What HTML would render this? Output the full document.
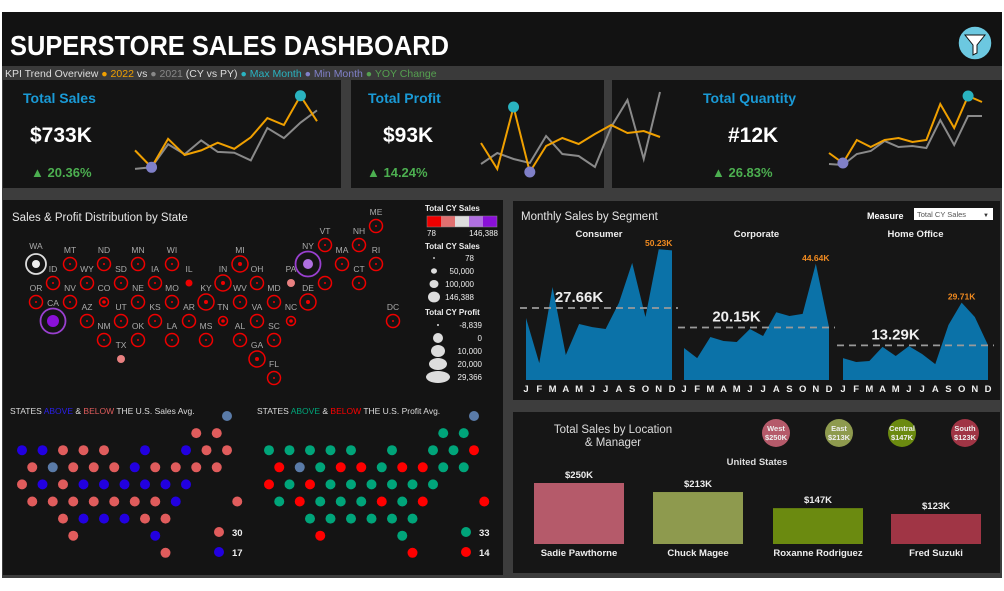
<!DOCTYPE html>
<html><head><meta charset="utf-8"><style>
html,body{margin:0;padding:0;background:#fff;}
svg{display:block;font-family:"Liberation Sans",sans-serif;}
</style></head><body>
<svg id="s" width="1004" height="591" viewBox="0 0 1004 591" xmlns="http://www.w3.org/2000/svg">
<rect x="2" y="12" width="1000" height="566" fill="#3d3d3d"/>
<rect x="2" y="12" width="1000" height="54" fill="#121212"/>
<text x="10" y="55" fill="#fff" font-size="28" font-weight="bold" textLength="439" lengthAdjust="spacingAndGlyphs">SUPERSTORE SALES DASHBOARD</text>
<g><circle cx="975" cy="43" r="17" fill="#6cc8e0" stroke="#111" stroke-width="1.5"/><path d="M965 35 L985 35 L977 45 L977 53 L973 55 L973 45 Z" fill="#fff" stroke="#111" stroke-width="1"/></g>
<rect x="2" y="66" width="1000" height="14" fill="#3a3a3a"/>
<text x="5" y="77" font-size="10.5" fill="#ddd">KPI Trend Overview <tspan fill="#f0a000">● 2022</tspan> vs <tspan fill="#888">● 2021</tspan> (CY vs PY) <tspan fill="#2ab3c0">● Max Month</tspan> <tspan fill="#8080c8">● Min Month</tspan> <tspan fill="#55a050">● YOY Change</tspan></text>
<rect x="3" y="80" width="338" height="108" fill="#141414"/>
<rect x="351" y="80" width="253" height="108" fill="#141414"/>
<rect x="612" y="80" width="390" height="108" fill="#141414"/>
<text x="23" y="103" font-size="14" font-weight="bold" fill="#1a9ad6">Total Sales</text>
<text x="30" y="142" font-size="21" font-weight="bold" fill="#fff">$733K</text>
<text x="31" y="177" font-size="13" font-weight="bold" fill="#4caf50">▲ 20.36%</text>
<text x="368" y="103" font-size="14" font-weight="bold" fill="#1a9ad6">Total Profit</text>
<text x="383" y="142" font-size="21" font-weight="bold" fill="#fff">$93K</text>
<text x="367" y="177" font-size="13" font-weight="bold" fill="#4caf50">▲ 14.24%</text>
<text x="703" y="103" font-size="14" font-weight="bold" fill="#1a9ad6">Total Quantity</text>
<text x="728" y="142" font-size="21" font-weight="bold" fill="#fff">#12K</text>
<text x="712" y="177" font-size="13" font-weight="bold" fill="#4caf50">▲ 26.83%</text>
<rect x="3" y="200" width="500" height="375" fill="#141414"/>
<text x="12" y="221" font-size="11.5" fill="#e6e6e6">Sales &amp; Profit Distribution by State</text>
<rect x="513" y="201" width="487" height="199" fill="#161616"/>
<text x="521" y="220" font-size="11.5" fill="#e6e6e6">Monthly Sales by Segment</text>
<text x="867" y="219" font-size="9" font-weight="bold" fill="#fff">Measure</text>
<g><rect x="914" y="208" width="79" height="12" fill="#fff"/><text x="917" y="217" font-size="7.5" fill="#555">Total CY Sales</text><text x="983" y="217" font-size="6" fill="#333">▼</text></g>
<rect x="513" y="412" width="487" height="161" fill="#161616"/>
<text x="613" y="433" font-size="11.5" fill="#ddd" text-anchor="middle">Total Sales by Location</text>
<text x="613" y="446" font-size="11.5" fill="#ddd" text-anchor="middle">&amp; Manager</text>
<text x="757" y="465" font-size="9.5" font-weight="bold" fill="#ddd" text-anchor="middle">United States</text>
<g id="g"></g>
</svg>
<script>
// ---- KPI sparkline data ----
const months = ['Jan','Feb','Mar','Apr','May','Jun','Jul','Aug','Sep','Oct','Nov','Dec'];
const salesCY = [45,23,60,39,45,55,47,62,87,78,116,83];
const salesPY = [21,23,53,40,58,43,42,32,74,61,81,97];
const profitCY = [9.6,1.8,20.4,0.9,8.7,11.1,9.3,12.3,15,12.6,13.2,11.4];
const profitPY = [3.3,6.6,4.8,3.6,11.7,6.3,5.7,2.4,14.4,22.5,4.8,24.9];
const qtyCY = [220,120,350,280,350,370,330,350,710,470,790,730];
const qtyPY = [110,100,210,240,340,280,290,270,550,300,590,590];
// ---- Segment data (K) ----
const segments = ['Consumer','Corporate','Home Office'];
const consumer = [23.8,6.5,35.7,9.6,21.5,20.3,19.6,29.6,45,24.2,50.23,49.8];
const corporate = [12.3,8.4,16.5,15,14.6,19.6,16.9,26,24.6,25.4,44.64,20.3];
const homeOffice = [8.4,6.9,7.3,12.7,9.2,13,10,6.1,21.1,29.71,24.2,13.4];
const segAvg = [27.66,20.15,13.29];
const monthLetters = ['J','F','M','A','M','J','J','A','S','O','N','D'];
// ---- Region / manager data ----
const regions = ['West','East','Central','South'];
const managers = ['Sadie Pawthorne','Chuck Magee','Roxanne Rodriguez','Fred Suzuki'];
const regionSales = [250,213,147,123];
const regionColors = ['#b55a6a','#8e9a4e','#6b8a10','#a03545'];
// ---- State tile map: [abbr, x-col, row, ringSize, style] ----
const states = [['WA',0,1,'w'],['MT',1,1,'r'],['ND',2,1,'r'],['MN',3,1,'r'],['WI',4,1,'r'],['MI',6,1,'r'],['NY',8,1,'p'],['VT',8.5,0,'r'],['NH',9.5,0,'r'],['ME',10,-1,'r'],['MA',9,1,'r'],['RI',10,1,'r'],
['ID',0.5,2,'r'],['WY',1.5,2,'r'],['SD',2.5,2,'r'],['IA',3.5,2,'r'],['IL',4.5,2,'d'],['IN',5.5,2,'r'],['OH',6.5,2,'r'],['PA',7.5,2,'l'],['',8.5,2,'r'],['CT',9.5,2,'r'],
['OR',0,3,'r'],['NV',1,3,'r'],['CO',2,3,'s'],['NE',3,3,'r'],['MO',4,3,'r'],['KY',5,3,'r'],['WV',6,3,'r'],['MD',7,3,'r'],['DE',8,3,'r'],
['CA',0.5,4,'c'],['AZ',1.5,4,'r'],['UT',2.5,4,'r'],['KS',3.5,4,'r'],['AR',4.5,4,'r'],['TN',5.5,4,'s'],['VA',6.5,4,'r'],['NC',7.5,4,'s'],['DC',10.5,4,'r'],
['NM',2,5,'r'],['OK',3,5,'r'],['LA',4,5,'r'],['MS',5,5,'r'],['AL',6,5,'r'],['SC',7,5,'r'],
['TX',2.5,6,'l'],['GA',6.5,6,'r'],['FL',7,7,'r']];
// ---- Above/below grid: [halfCol,row,category] ----
const salesCells = [[20,0,'g'],[17,1,'R'],[19,1,'R'],
[0,2,'B'],[2,2,'B'],[4,2,'R'],[6,2,'R'],[8,2,'R'],[12,2,'B'],[16,2,'B'],[18,2,'R'],[20,2,'R'],
[1,3,'R'],[3,3,'g'],[5,3,'R'],[7,3,'R'],[9,3,'R'],[11,3,'B'],[13,3,'R'],[15,3,'R'],[17,3,'R'],[19,3,'R'],
[0,4,'R'],[2,4,'B'],[4,4,'R'],[6,4,'B'],[8,4,'B'],[10,4,'B'],[12,4,'B'],[14,4,'B'],[16,4,'B'],
[1,5,'R'],[3,5,'R'],[5,5,'R'],[7,5,'R'],[9,5,'R'],[11,5,'R'],[13,5,'R'],[15,5,'B'],[21,5,'R'],
[4,6,'R'],[6,6,'B'],[8,6,'B'],[10,6,'B'],[12,6,'R'],[14,6,'R'],[5,7,'R'],[13,7,'B'],[14,8,'R']];
const profitCats = ['g','G','G','G','G','G','G','G','G','G','G','R','R','g','G','R','R','G','R','R','G','G','R','G','R','G','G','G','G','G','G','G','R','G','G','G','R','G','R','R','G','G','G','G','G','G','R','G','R'];
const salesCounts = [30,17];
const profitCounts = [33,14];

const NS='http://www.w3.org/2000/svg';
const G=document.getElementById('g');
function mk(t,a,p){const e=document.createElementNS(NS,t);for(const k in a)e.setAttribute(k,a[k]);(p||G).appendChild(e);return e;}
function tx(x,y,s,a){const e=mk('text',Object.assign({x:x,y:y},a));e.textContent=s;return e;}

// Sparklines
function spark(name,cy,py,x0,x1,yb,yt,vmax,vmin){
  const xs=i=>x0+i*(x1-x0)/11;
  const ys=v=>yb-(v-vmin)/(vmax-vmin)*(yb-yt);
  const lp=mk('polyline',{points:py.map((v,i)=>xs(i)+','+ys(v)).join(' '),fill:'none',stroke:'#8a8a8a','stroke-width':2});
  
  
  const lc=mk('polyline',{points:cy.map((v,i)=>xs(i)+','+ys(v)).join(' '),fill:'none',stroke:'#f0a000','stroke-width':2});
  
  
  const mx=cy.indexOf(Math.max(...cy)),mn=cy.indexOf(Math.min(...cy));
  const a=mk('circle',{cx:xs(mx),cy:ys(cy[mx]),r:5.5,fill:'#2ab3c0'});
  
  
  const b=mk('circle',{cx:xs(mn),cy:ys(cy[mn]),r:5.5,fill:'#8080c8'});
  
  
}
spark('sales',salesCY,salesPY,135,317,185,95,117,0);
spark('profit',profitCY,profitPY,481,660,175,92,24.9,0);
spark('quantity',qtyCY,qtyPY,829,982,175,95,800,0);

// State map
states.forEach(s=>{
  const cx=36+s[1]*34, cy=264+(s[2]-1)*19;
  const g=mk('g',{});
  
  
  const t=s[3];
  if(t==='w'){mk('circle',{cx,cy,r:10,fill:'none',stroke:'#ddd','stroke-width':1.8},g);mk('circle',{cx,cy,r:4,fill:'#eee'},g);}
  else if(t==='p'||t==='c'){mk('circle',{cx,cy,r:12.5,fill:'none',stroke:'#9a40d0','stroke-width':1.8},g);mk('circle',{cx,cy,r:t==='c'?6:5,fill:t==='c'?'#8a10d8':'#b070e0'},g);}
  else if(t==='d'){mk('circle',{cx,cy,r:3.5,fill:'#ee0000'},g);}
  else if(t==='l'){mk('circle',{cx,cy,r:4,fill:'#e88080'},g);}
  else if(t==='s'){mk('circle',{cx,cy,r:4.5,fill:'none',stroke:'#ee0000','stroke-width':1.5},g);mk('circle',{cx,cy,r:1.8,fill:'#ee0000'},g);}
  else{const big=['MI','IN','KY','DE','GA'].includes(s[0]);mk('circle',{cx,cy,r:big?8:6.5,fill:'none',stroke:'#ee0000','stroke-width':1.5},g);mk('circle',{cx,cy,r:big?2:1,fill:'#ee0000'},g);}
  if(s[0]){const l=mk('text',{x:cx,y:cy-(t==='w'||t==='p'||t==='c'?15:11),'font-size':8.5,fill:'#aaa','text-anchor':'middle'},g);l.textContent=s[0];}
});

// Map legend
const lg=mk('g',{});


function lt(x,y,s,anc,b){const e=mk('text',{x,y,'font-size':8,fill:'#eee','font-weight':b?'bold':'normal','text-anchor':anc||'start'},lg);e.textContent=s;}
lt(425,211,'Total CY Sales','start',1);
['#ee0000','#e07070','#dddddd','#b070e0','#8a10d8'].forEach((c,i)=>mk('rect',{x:427+i*14,y:216,width:14,height:11,fill:c},lg));
mk('rect',{x:427,y:216,width:70,height:11,fill:'none',stroke:'#888','stroke-width':0.5},lg);
lt(427,236,'78');lt(498,236,'146,388','end');
lt(425,249,'Total CY Sales','start',1);
[['78',1],['50,000',3],['100,000',4.5],['146,388',6]].forEach((d,i)=>{mk('ellipse',{cx:434,cy:258+i*13,rx:d[1],ry:d[1]*0.9,fill:'#ddd'},lg);lt(474,261+i*13,d[0],'end');lt(0,0,'');});
lt(425,315,'Total CY Profit','start',1);
[['-8,839',1],['0',5],['10,000',7],['20,000',9],['29,366',12]].forEach((d,i)=>{mk('ellipse',{cx:438,cy:325+i*13,rx:d[1],ry:Math.min(d[1],6),fill:'#ddd'},lg);lt(482,328+i*13,d[0],'end');});

// Above/below grids
function grid(name,x0,cells,cats,colors,title1,c1,title2,c2,title3,counts,legendCats){
  const t=mk('text',{x:x0-12,y:414,'font-size':8.5,fill:'#ddd'});
  
  
  t.innerHTML='STATES <tspan fill="'+c1+'">ABOVE</tspan> &amp; <tspan fill="'+c2+'">BELOW</tspan> '+title3;
  cells.forEach((c,i)=>{
    const d=mk('circle',{cx:x0+c[0]*10.25,cy:416+c[1]*17.1,r:5,fill:colors[cats[i]]});
    
    
  });
  counts.forEach((n,i)=>{
    const d=mk('circle',{cx:x0+197,cy:532+i*20,r:5,fill:colors[legendCats[i]]});
    
    
    const l=tx(x0+210,536+i*20,String(n),{'font-size':9.5,'font-weight':'bold',fill:'#eee'});
    
    
  });
}
grid('sales-avg',22,salesCells,salesCells.map(c=>c[2]),{R:'#e05c5c',B:'#2200e0',g:'#5a7ba8'},'','#2a20e8','','#e05c5c','THE U.S. Sales Avg.',salesCounts,['R','B']);
grid('profit-avg',269,salesCells,profitCats,{R:'#ff0000',G:'#00a57a',g:'#5a7ba8'},'','#00a57a','','#ff0000','THE U.S. Profit Avg.',profitCounts,['G','R']);

// Segment area charts
const segData=[consumer,corporate,homeOffice];
const segX=[[526,672],[684,829],[843,988]];
const base=380, kpp=0.384;
const ySeg=v=>base-v/kpp;
segData.forEach((d,s)=>{
  const [a,b]=segX[s]; const xs=i=>a+i*(b-a)/11;
  const p=mk('polygon',{points:xs(0)+','+base+' '+d.map((v,i)=>xs(i)+','+ySeg(v)).join(' ')+' '+xs(11)+','+base,fill:'#0b72a8'});
  
  
  const st=tx((a+b)/2,237,segments[s],{'font-size':9.5,'font-weight':'bold',fill:'#eee','text-anchor':'middle'});
  
  
  const ln=mk('line',{x1:a-6,x2:b+6,y1:ySeg(segAvg[s]),y2:ySeg(segAvg[s]),stroke:'#9a9a9a','stroke-width':1.8,'stroke-dasharray':'7,5'});
  
  
  const al=tx((a+b)/2-20,ySeg(segAvg[s])-6,segAvg[s].toFixed(2)+'K',{'font-size':15,'font-weight':'bold',fill:'#eee','text-anchor':'middle'});
  
  
  const mi=d.indexOf(Math.max(...d));
  const ml=tx(xs(mi),ySeg(d[mi])-3,d[mi].toFixed(2)+'K',{'font-size':8.5,'font-weight':'bold',fill:'#f08a20','text-anchor':'middle'});
  
  
  monthLetters.forEach((m,i)=>{
    const e=tx(xs(i),392,m,{'font-size':9.5,'font-weight':'bold',fill:'#eee','text-anchor':'middle'});
    
    
  });
});

// Region circles and manager bars
const barX=[534,653,773,891], bw=90, bb=544, ppk=0.244;
regions.forEach((r,i)=>{
  const cx=776+i*63;
  const c=mk('circle',{cx,cy:433,r:14,fill:regionColors[i]});
  
  
  const t1=tx(cx,431,r,{'font-size':7.5,'font-weight':'bold',fill:'#eee','text-anchor':'middle'});
  
  
  const t2=tx(cx,440,'$'+regionSales[i]+'K',{'font-size':7.5,'font-weight':'bold',fill:'#eee','text-anchor':'middle'});
  
  
  const h=regionSales[i]*ppk;
  const b=mk('rect',{x:barX[i],y:bb-h,width:bw,height:h,fill:regionColors[i]});
  
  
  const v=tx(barX[i]+bw/2,bb-h-5,'$'+regionSales[i]+'K',{'font-size':9.5,'font-weight':'bold',fill:'#eee','text-anchor':'middle'});
  
  
  const n=tx(barX[i]+bw/2,556,managers[i],{'font-size':9.5,'font-weight':'bold',fill:'#eee','text-anchor':'middle'});
  
  
});
</script>
</body></html>
